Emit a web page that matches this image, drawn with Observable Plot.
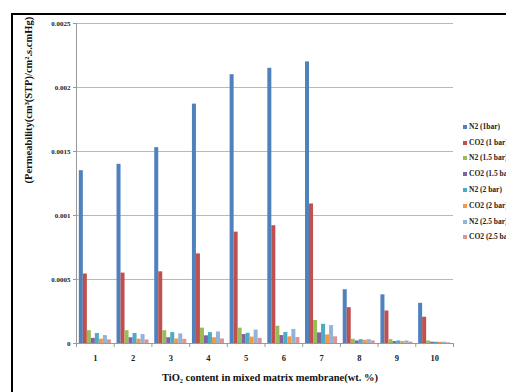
<!DOCTYPE html>
<html>
<head>
<meta charset="utf-8">
<script src="https://cdn.jsdelivr.net/npm/d3@7"></script>
<script src="https://cdn.jsdelivr.net/npm/@observablehq/plot@0.6"></script>
<style>
  html, body { margin: 0; padding: 0; background: #fff; overflow: hidden; }
  #wrap { position: relative; width: 506px; height: 392px; overflow: hidden; }
  #frame { position: absolute; left: 11px; top: 13px; width: 600px; height: 500px;
           border-top: 2px solid #000; border-left: 2px solid #000; box-sizing: border-box; }
  #chart { position: absolute; left: 0; top: 0; }
  #legend { position: absolute; left: 463px; top: 119px; font-family: "Liberation Serif", serif;
            font-size: 7.5px; font-weight: bold; color: #222; white-space: nowrap; }
  #legend .row { height: 15.8px; line-height: 12px; display: flex; align-items: center; }
  #legend .sw { width: 4px; height: 4px; margin-right: 2px; display: inline-block; }
</style>
</head>
<body>
<div id="wrap">
  <div id="frame"></div>
  <div id="chart"></div>
  <div id="legend"></div>
</div>
<script>
// Tick labels / categories (TiO2 content, wt. %)
const categories = [1, 2, 3, 4, 5, 6, 7, 8, 9, 10];
const series = ["N2 (1bar)", "CO2 (1 bar)", "N2 (1.5 bar)", "CO2 (1.5 bar)",
                "N2 (2 bar)", "CO2 (2 bar)", "N2 (2.5 bar)", "CO2 (2.5 bar)"];
const colors = ["#4F81BD", "#C0504D", "#9BBB59", "#8064A2", "#4BACC6", "#F79646", "#95B3D7", "#DA9694"];
const yTicks = [0, 0.0005, 0.001, 0.0015, 0.002, 0.0025];

// Series values
const n2_1bar    = [0.00135, 0.0014, 0.00153, 0.00187, 0.0021, 0.00215, 0.0022, 0.00042, 0.00038, 0.000314];
const co2_1bar   = [0.000543, 0.00055, 0.00056, 0.0007, 0.00087, 0.00092, 0.00109, 0.00028, 0.000254, 0.000205];
const n2_1_5bar  = [0.0001, 0.0001, 0.0001, 0.00012, 0.00012, 0.000135, 0.00018, 0.000033, 0.00003, 0.00002];
const co2_1_5bar = [0.00004, 0.000045, 0.000045, 0.00006, 0.00007, 0.000062, 0.000083, 0.00002, 0.000015, 0.00001];
const n2_2bar    = [0.000078, 0.000078, 0.000085, 0.000085, 0.00008, 0.000086, 0.00015, 0.00003, 0.00002, 0.00001];
const co2_2bar   = [0.000034, 0.000034, 0.000035, 0.000045, 0.00005, 0.000052, 0.000067, 0.000025, 0.000015, 0.00001];
const n2_2_5bar  = [0.000062, 0.00007, 0.000075, 0.00009, 0.000105, 0.00011, 0.00014, 0.00003, 0.00002, 0.00001];
const co2_2_5bar = [0.000028, 0.000028, 0.000032, 0.000035, 0.00004, 0.000047, 0.000052, 0.00002, 0.00001, 0.000005];

const values = [n2_1bar, co2_1bar, n2_1_5bar, co2_1_5bar, n2_2bar, co2_2bar, n2_2_5bar, co2_2_5bar];

const rows = categories.flatMap((c, i) =>
  series.map((s, k) => ({ cat: c, k, series: s, value: values[k][i] })));

const groupFrac = 0.85;
const w = groupFrac / series.length;
const boundaries = [...categories.map(c => c - 0.5), categories[categories.length - 1] + 0.5];

const chart = Plot.plot({
  width: 506,
  height: 392,
  marginLeft: 76,
  marginRight: 53,
  marginTop: 23,
  marginBottom: 49,
  style: { fontFamily: "Liberation Serif, serif", fontWeight: "bold", fontSize: "7px", background: "transparent", overflow: "visible" },
  x: { type: "linear", domain: [0.5, 10.5], axis: null },
  y: { domain: [0, 0.0025], axis: null },
  color: { domain: series, range: colors },
  marks: [
    Plot.gridY(yTicks, { stroke: "#b8b8b8", strokeOpacity: 1 }),
    Plot.axisY({ ticks: yTicks, tickSize: 3, tickPadding: 3, stroke: "#999", tickFormat: d => String(d), fontSize: 7, fill: "#222", label: null }),
    Plot.ruleX([0.5], { stroke: "#999" }),
    Plot.rectY(rows, {
      x1: d => d.cat - groupFrac / 2 + d.k * w,
      x2: d => d.cat - groupFrac / 2 + (d.k + 1) * w,
      y: "value",
      fill: "series"
    }),
    Plot.ruleY([0], { stroke: "#999" }),
    Plot.axisX({ ticks: boundaries, tickSize: 4, stroke: "#999", tickFormat: () => "", label: null }),
    Plot.axisX({ ticks: categories, tickSize: 0, tickPadding: 11, tickFormat: d => String(d), fontSize: 8.5, fill: "#222", label: null }),
    Plot.text(["(Permeability(cm³(STP)/cm².s.cmHg)"], {
      frameAnchor: "left", rotate: -90, dx: -48, fontSize: 10.5, fill: "#111", letterSpacing: 0.6
    }),
    Plot.text(["TiO₂ content in mixed matrix membrane(wt. %)"], {
      frameAnchor: "bottom", dy: 37, dx: 5, fontSize: 10.5, fill: "#111"
    })
  ]
});
document.getElementById("chart").appendChild(chart);

const legend = document.getElementById("legend");
series.forEach((s, k) => {
  const row = document.createElement("div");
  row.className = "row";
  const sw = document.createElement("span");
  sw.className = "sw";
  sw.style.background = colors[k];
  row.appendChild(sw);
  row.appendChild(document.createTextNode(s));
  legend.appendChild(row);
});
</script>
</body>
</html>
